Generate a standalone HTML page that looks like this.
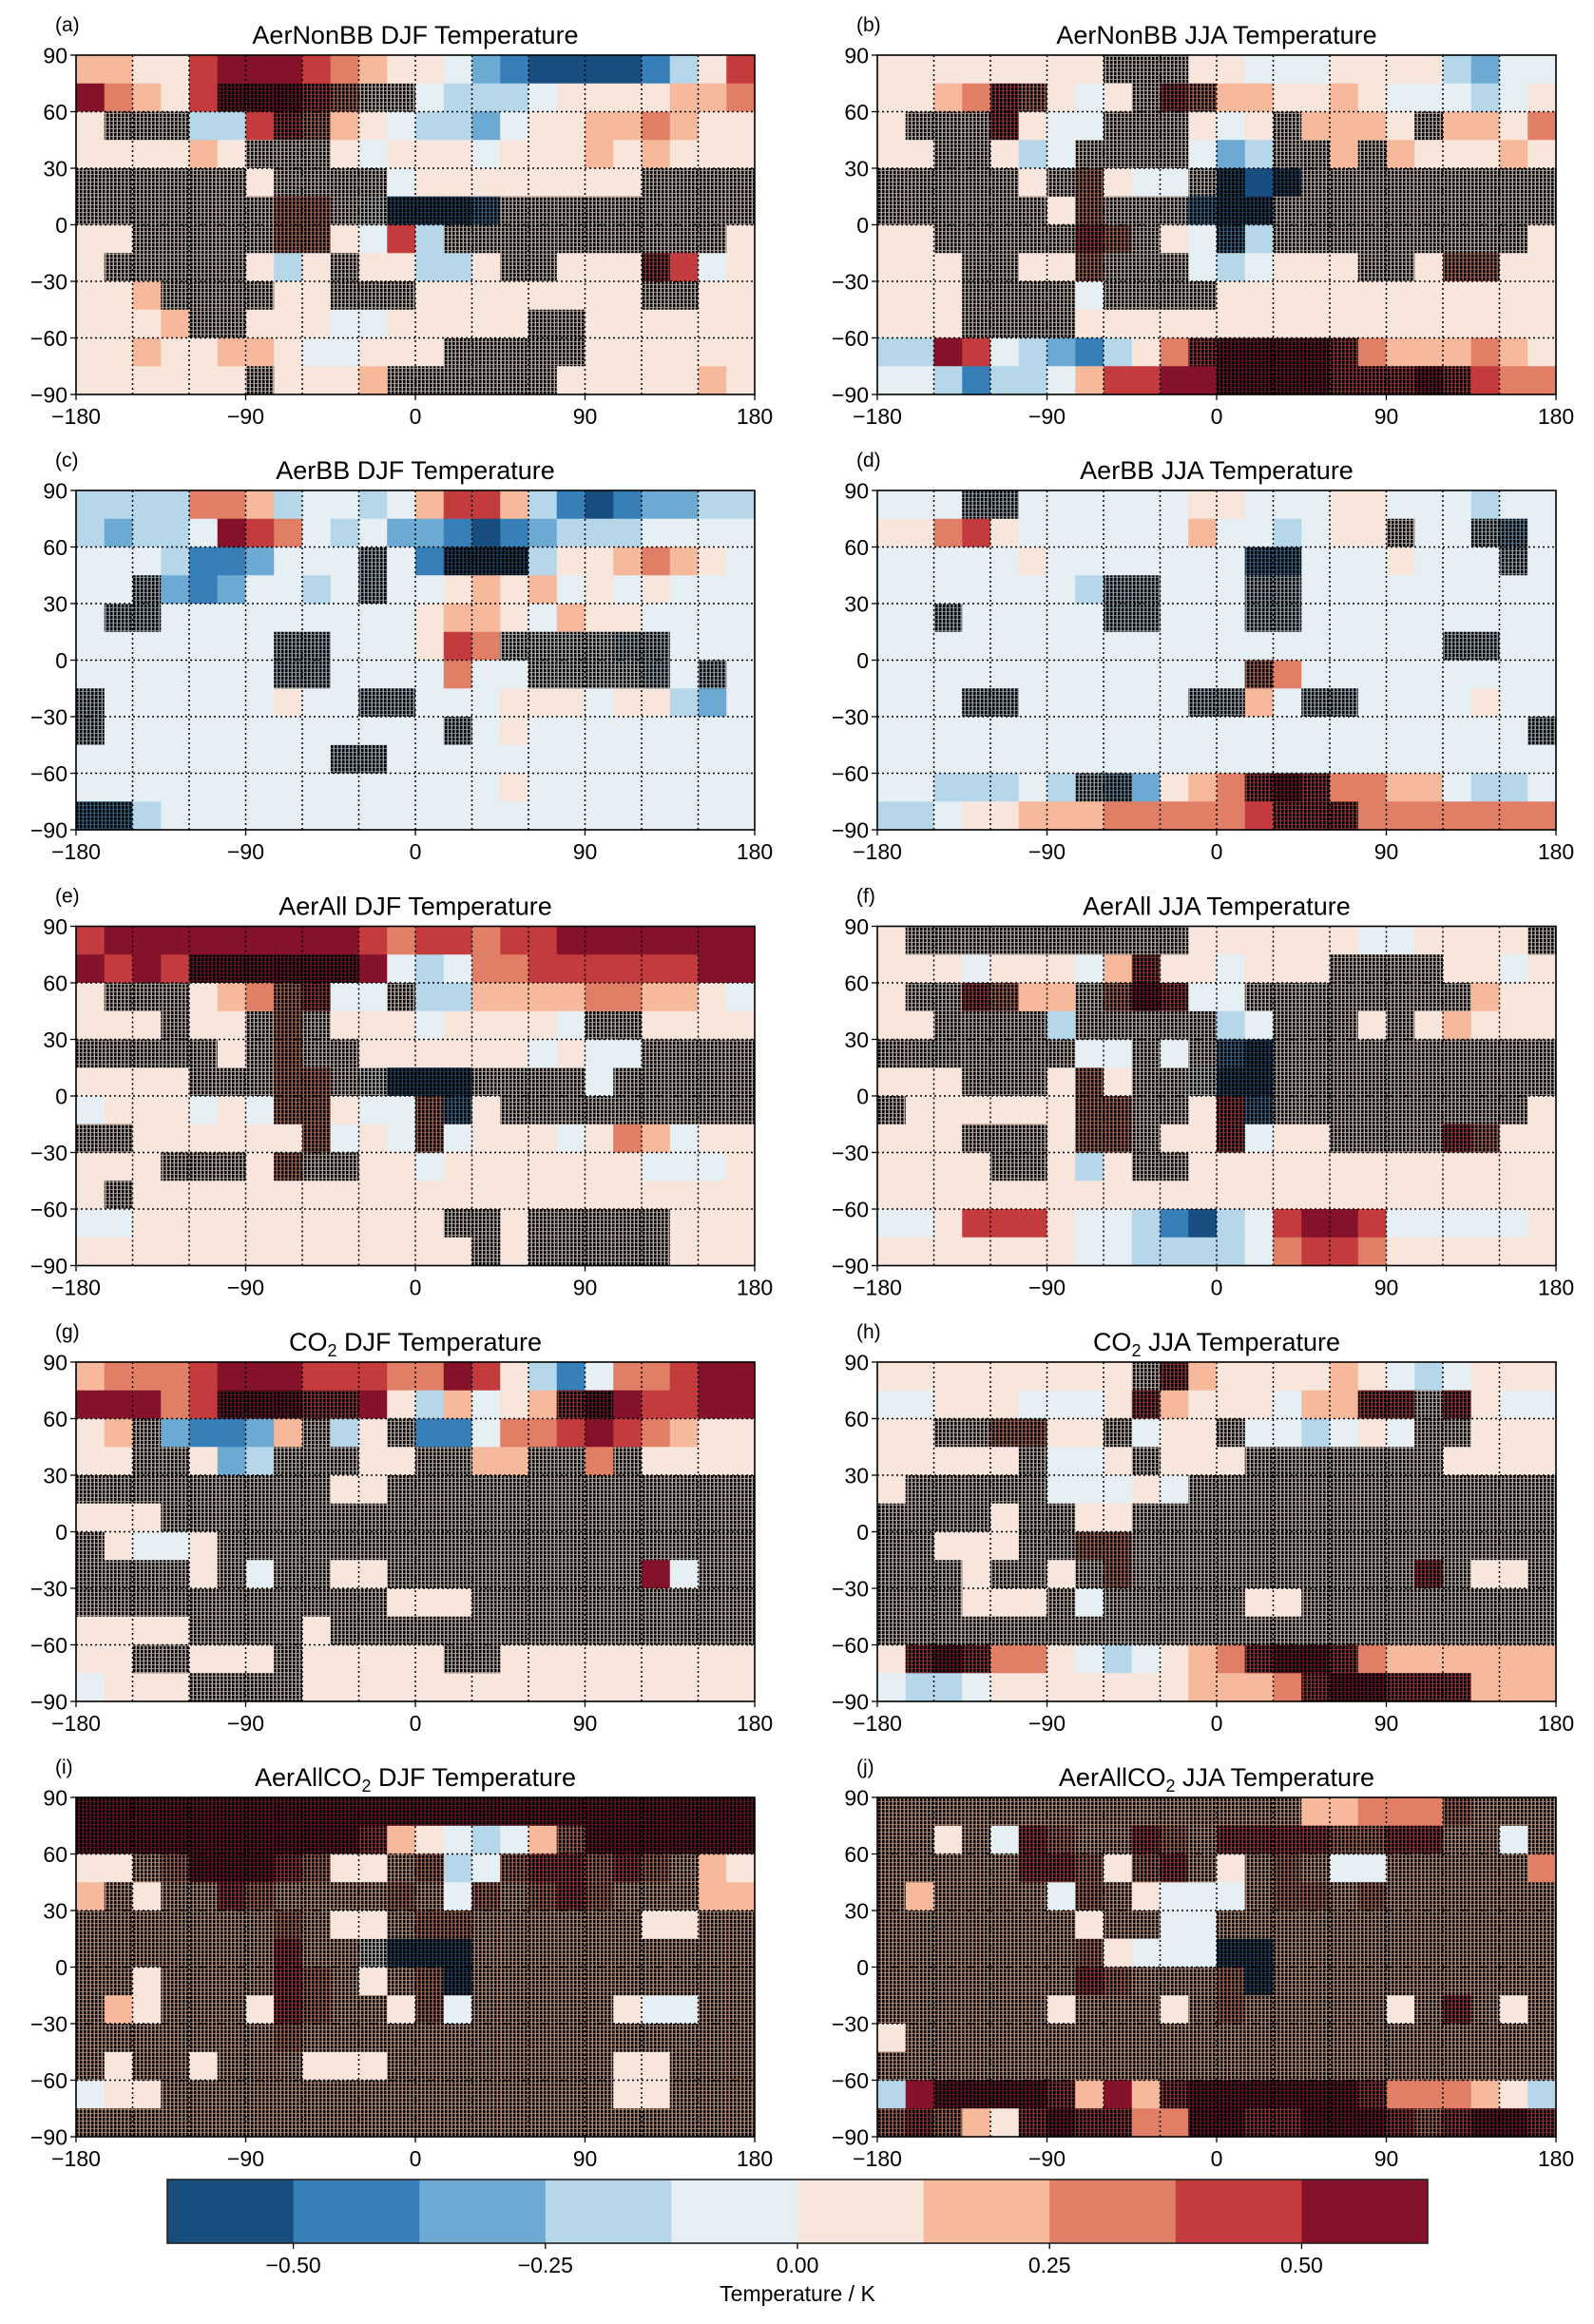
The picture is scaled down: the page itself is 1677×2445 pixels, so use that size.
<!DOCTYPE html>
<html><head><meta charset="utf-8"><style>
html,body{margin:0;padding:0;background:#fff;}
svg{display:block;font-family:"Liberation Sans","DejaVu Sans",sans-serif;}
</style></head><body>
<svg id="fig" width="1677" height="2445" viewBox="0 0 1677 2445" xmlns="http://www.w3.org/2000/svg">
<defs>
<pattern id="stip" patternUnits="userSpaceOnUse" width="4" height="4">
<rect x="0" y="0" width="4" height="4" fill="#1a0c08" fill-opacity="0.3"/>
<rect x="0" y="0" width="2.5" height="3.2" fill="#000"/>
</pattern>
</defs>
<rect width="1677" height="2445" fill="#fff"/>
</svg>
<script>
// Colour level per cell: '0'-'9' = level, 'a'-'j' = same level with stippling.
const colorbarTicks = [-0.50, -0.25, 0.00, 0.25, 0.50];
const colorbarBounds = [-0.625,-0.5,-0.375,-0.25,-0.125,0,0.125,0.25,0.375,0.5,0.625];
const lonTicks = [-180, -90, 0, 90, 180];
const latTicks = [90, 60, 30, 0, -30, -60, -90];
const gridLons = [-150,-120,-90,-60,-30,0,30,60,90,120,150];
const gridLats = [60,30,0,-30,-60];
const levelColors = ["#184d80","#377fb8","#6caad3","#b5d7e9","#e6eff4","#f8e5dc","#f7b99b","#e07f66","#c43b3e","#86112a"];

const panelA = ["665589998765542100001358","97658jjjihff433345555667","5fff338ih654332455667655","555565fff545554555656555","ffffff5ffff455555555ffff","fffffffhhfeaaabfffffffff","55fffffhh5483ffffffffff5","5fffff535f55335ff555i845","556ffff55fff55555555ff55","5556ff5554455555ff555555","5565566544555fffff555555","555555f5556ffffff5555565"];
const panelB = ["55555555fff5544455553244","5567ih545fih665565444345","5fffi544fff545f6665f6657","55ff534ffff423ff6f655565","fffff5fh544fa0afffffffff","ffffff5hfffbaaffffffffff","55fffffihf54b3fffffffff5","555ff55hfff434555ff5hh55","555ffff4ffff555555555555","555ffff55555555555555555","33984321357ijjjji7666765","443133468899jjjjiiiji877"];
const panelC = ["333377634434688631012233","323349874342210123334444","4443112444d41aaa35567654","44d2124434d4456564545444","4dd444444444566546554444","4444444dd444587eeeedd444","4444444dd4444744eeeed4d4","d444444544dd444555455324","d444444444444d4544444444","444444444dd4444444444444","444444444444444544444444","bb3444444444444444444444"];
const panelD = ["444dd4444445544455444344","557854444446443455f44dc4","4444454444444bb4445444d4","44444443dd444dd444444444","44d44444dd444dd444444444","44444444444444444444dd44","4444444444444h7444444444","444dd444444dd64dd4444544","44444444444444444444444d","444444444444444444444444","4433343dc2567iji77664334","33455666777778iii7777777"];
const panelE = ["899999999987887889999999","9898jjjjjj94347788888899","5fff567hi44f336666776654","555f55fhf555455554ff5555","fffff5fhff5555554544ffff","5555fffhhfeaaaffff4fffff","4555454hh544hb5fffffffff","ff555555h454h45554576455","555fff5hff55455555554445","5f5555555555555555555555","4455555555555ff5fffff555","55555555555555f5fffff555"];
const panelF = ["5ffffffffff555555445555f","555455546i554555ffff5545","5ffih66fhji44ffffffff655","55ffff3fffff34fff5f56555","fffffff44f4fbaffffffffff","555fff5h5ffeaaffffffffff","f555555hhff5ibfffffffff5","555fff5hhf55i455ffffih55","5555ff535ff5555555555555","555555555555555555555555","445888544310348998444445","555555544333347887555555"];
const panelG = ["677789998887798531477899","99978jjjii9536456ij98899","56f21126f35f114778987655","55ff523fff55ff66ff7f5555","fffffffff55fffffffffffff","555fffffffffffffffffffff","f5445fffffffffffffffffff","ffff5f4ff55fffffffff94ff","fffffffffff555ffffffffff","5555ffff5fffffffffffffff","55ff555f55555ff555555555","4555ffff5555555555555555"];
const panelH = ["555555555fi6555565434555","445554445i6555466iifi544","55ffhh55f455f443454ff555","55555f445f555fffffff5555","5fffff44454fffffffffffff","ffff5ff55fffffffffffffff","ff555ffhhfffffffffffffff","fff5ff5fhffffffffffif55f","fff555f4fffff55fffffffff","ffffffffffffffffffffffff","5iji775434567ijji7666666","433455555556667ijjiii666"];
const panelI = ["jjjjjjjjjjjjjjjjjjjjjjjj","jjjjjjjjjji654346hjjjjjj","55ghjjjih55gh34hiihihg65","6g5ggihgggghg4hghihggg66","ggggggghg55ghhgggggg55gg","gggggggiggeaaagggggggggg","gg5ggggihg5ghagggggggggg","g65ggg5ihgg5h4ggggg544gg","ggggggghgggggggggggggggg","g5gg5ggg555gggggggg55ggg","455gggggggggggggggg55ggg","gggggggggggggggggggggggg"];
const panelJ = ["ggggggggggggggg66777hggg","gg5g4ihggihgiiiihhiigg4g","gggggiih5hig5ghg44ggggg7","g6gggg4hg5444ghhghgggggg","ggggggg5gg44gggggggggggg","gggggggh5444aagggggggggg","gggggggihggghagggggggggg","gggggg5ggg5ghggggg5gig5g","5ggggggggggggggggggggggg","gggggggggggggggggggggggg","39jjjji696ijjjjjji777653","hih65ijii77jjiijjjihijji"];

const panelFields = [panelA,panelB,panelC,panelD,panelE,panelF,panelG,panelH,panelI,panelJ];
const panelLetters = ["(a)","(b)","(c)","(d)","(e)","(f)","(g)","(h)","(i)","(j)"];
const panelTitles = [["AerNonBB","","DJF Temperature"],["AerNonBB","","JJA Temperature"],["AerBB","","DJF Temperature"],["AerBB","","JJA Temperature"],["AerAll","","DJF Temperature"],["AerAll","","JJA Temperature"],["CO","2","DJF Temperature"],["CO","2","JJA Temperature"],["AerAllCO","2","DJF Temperature"],["AerAllCO","2","JJA Temperature"]];

const NS = "http://www.w3.org/2000/svg";
const svg = document.getElementById('fig');
function mk(tag, attrs, parent){
  const e = document.createElementNS(NS, tag);
  for (const k in attrs) e.setAttribute(k, attrs[k]);
  (parent||svg).appendChild(e);
  return e;
}
const colX = [80, 923], rowY = [58, 516, 974.5, 1433, 1891], PW = 714, PH = 357;

panelFields.forEach((field, p) => {
  const x0 = colX[p % 2], y0 = rowY[Math.floor(p / 2)];
  const xs = lon => x0 + (lon + 180) / 360 * PW;
  const ys = lat => y0 + (90 - lat) / 180 * PH;
  const g = mk('g', {});
  
  
  const nr = field.length;
  field.forEach((row, r) => {
    const nc = row.length;
    for (let c = 0; c < nc; c++) {
      const ch = row[c];
      let lvl = ch.charCodeAt(0) - 48, stip = false;
      if (lvl < 0 || lvl > 9) { lvl = ch.charCodeAt(0) - 97; stip = true; }
      const lonA = -180 + c * 360 / nc, lonB = lonA + 360 / nc;
      const latA = 90 - r * 180 / nr, latB = latA - 180 / nr;
      const cx = xs(lonA), cy = ys(latA), cw = xs(lonB) - cx, chh = ys(latB) - cy;
      const cell = mk('rect', {x: cx, y: cy, width: cw + 0.6, height: chh + 0.6, fill: levelColors[lvl]}, g);
      
      
      if (stip) {
        const s = mk('rect', {x: cx, y: cy, width: cw + 0.3, height: chh + 0.3, fill: 'url(#stip)'}, g);
        
        
      }
    }
  });
  gridLons.forEach(lon => {
    const l = mk('line', {x1: xs(lon), x2: xs(lon), y1: y0, y2: y0 + PH, stroke: '#000', 'stroke-width': 1.5, 'stroke-dasharray': '2,3'}, g);
    
    
  });
  gridLats.forEach(lat => {
    const l = mk('line', {x1: x0, x2: x0 + PW, y1: ys(lat), y2: ys(lat), stroke: '#000', 'stroke-width': 1.5, 'stroke-dasharray': '2,3'}, g);
    
    
  });
  const fr = mk('rect', {x: x0, y: y0, width: PW, height: PH, fill: 'none', stroke: '#000', 'stroke-width': 1.6}, g);
  
  
  latTicks.forEach(lat => {
    mk('line', {x1: x0 - 6, x2: x0, y1: ys(lat), y2: ys(lat), stroke: '#000', 'stroke-width': 1.3}, g);
    const t = mk('text', {x: x0 - 9, y: ys(lat) + 8.5, 'text-anchor': 'end', 'font-size': 23, fill: '#000'}, g);
    t.textContent = lat < 0 ? '\u2212' + (-lat) : String(lat);
    
    
  });
  lonTicks.forEach(lon => {
    mk('line', {x1: xs(lon), x2: xs(lon), y1: y0 + PH, y2: y0 + PH + 6, stroke: '#000', 'stroke-width': 1.3}, g);
    const t = mk('text', {x: xs(lon), y: y0 + PH + 31, 'text-anchor': 'middle', 'font-size': 23, fill: '#000'}, g);
    t.textContent = lon < 0 ? '\u2212' + (-lon) : String(lon);
    
    
  });
  const tt = panelTitles[p];
  const title = mk('text', {x: x0 + PW / 2, y: y0 - 12, 'text-anchor': 'middle', 'font-size': 27, fill: '#000'}, g);
  
  
  const t1 = mk('tspan', {}, title); t1.textContent = tt[0];
  if (tt[1]) {
    const t2 = mk('tspan', {'font-size': 18, dy: 6}, title); t2.textContent = tt[1];
    const t3 = mk('tspan', {dy: -6}, title); t3.textContent = ' ' + tt[2];
  } else {
    const t3 = mk('tspan', {}, title); t3.textContent = ' ' + tt[2];
  }
  const lab = mk('text', {x: x0 - 22, y: y0 - 25, 'font-size': 21, fill: '#000'}, g);
  lab.textContent = panelLetters[p];
  
  
});

const cbX0 = 176, cbX1 = 1502, cbY = 2293, cbH = 67;
const cbG = mk('g', {});


const vmin = colorbarBounds[0], vmax = colorbarBounds[colorbarBounds.length - 1];
const cbx = v => cbX0 + (v - vmin) / (vmax - vmin) * (cbX1 - cbX0);
levelColors.forEach((col, i) => {
  const r = mk('rect', {x: cbx(colorbarBounds[i]), y: cbY, width: cbx(colorbarBounds[i + 1]) - cbx(colorbarBounds[i]) + 0.5, height: cbH, fill: col}, cbG);
  
  
});
mk('rect', {x: cbX0, y: cbY, width: cbX1 - cbX0, height: cbH, fill: 'none', stroke: '#222', 'stroke-width': 1.6}, cbG);
colorbarTicks.forEach(v => {
  mk('line', {x1: cbx(v), x2: cbx(v), y1: cbY + cbH, y2: cbY + cbH + 6, stroke: '#000', 'stroke-width': 1.3}, cbG);
  const t = mk('text', {x: cbx(v), y: cbY + cbH + 31, 'text-anchor': 'middle', 'font-size': 23, fill: '#000'}, cbG);
  t.textContent = (v < 0 ? '\u2212' : '') + Math.abs(v).toFixed(2);
  
  
});
const cbl = mk('text', {x: (cbX0 + cbX1) / 2, y: 2421, 'text-anchor': 'middle', 'font-size': 23, fill: '#000'}, cbG);
cbl.textContent = 'Temperature / K';


</script>
</body></html>
